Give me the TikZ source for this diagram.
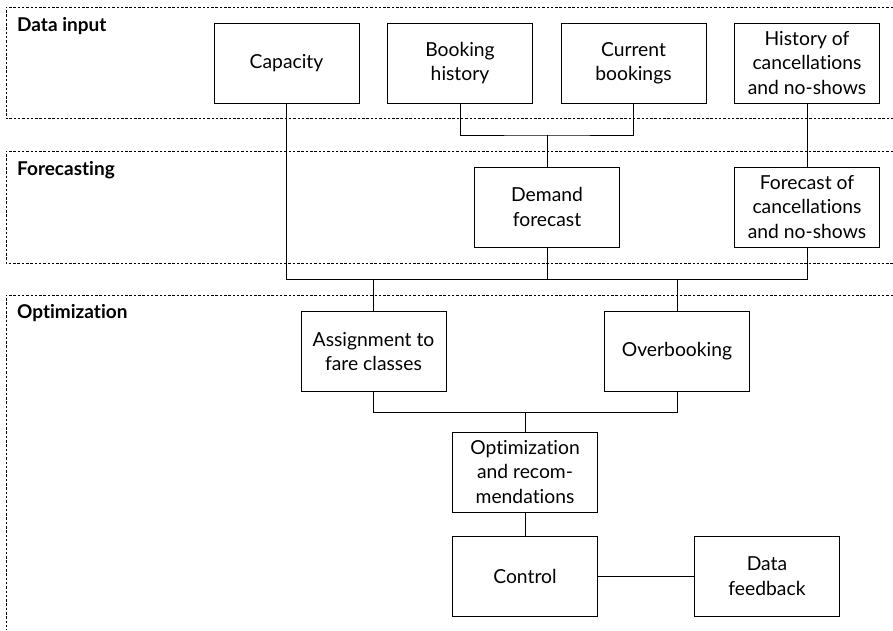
\documentclass[tikz,border=0pt]{standalone}
\usepackage{fontspec}
\setmainfont{Lato}[Ligatures=NoCommon]
\begin{document}
\begin{tikzpicture}[x=1pt,y=-1pt,
  procbox/.style={draw,line width=0.9pt,minimum width=145pt,minimum height=80pt,
    align=center,inner sep=2pt,font=\fontsize{19.3}{24.3}\selectfont},
  layertitle/.style={anchor=base west,inner sep=0pt,font=\fontsize{19}{22}\selectfont\bfseries},
  layerframe/.style={dashed,line width=0.6pt,dash pattern=on 2.5pt off 1.8pt},
  link/.style={line width=0.9pt}]
\useasboundingbox (0,0) rectangle (893,630);

% layer frames (open on the right)
\draw[layerframe] (893,7) -- (6,7) -- (6,118.5) -- (893,118.5);
\draw[layerframe] (893,151) -- (6,151) -- (6,263) -- (893,263);
\draw[layerframe] (893,295) -- (6,295) -- (6,630);

\node[layertitle] (tin)  at (17,31)  {Data input};
\node[layertitle] (tfc)  at (17,175) {Forecasting};
\node[layertitle] (topt) at (17,318) {Optimization};

% data input
\node[procbox] (cap)  at (286.5,63) {Capacity};
\node[procbox] (book) at (460,63)   {Booking\\history};
\node[procbox] (cur)  at (633.5,63) {Current\\bookings};
\node[procbox] (hist) at (807,63)   {History of\\cancellations\\and no-shows};

% forecasting
\node[procbox] (dem)  at (547,207)  {Demand\\forecast};
\node[procbox] (fcan) at (807,207)  {Forecast of\\cancellations\\and no-shows};

% optimization
\node[procbox] (asg)  at (373.5,351.5) {Assignment to\\fare classes};
\node[procbox] (ovb)  at (677,351.5)   {Overbooking};
\node[procbox] (opt)  at (525,472)     {Optimization\\and recom-\\mendations};
\node[procbox] (ctl)  at (525,576)     {Control};
\node[procbox] (fb)   at (767,576)     {Data\\feedback};

% junction points
\coordinate (j1) at (547,135);
\coordinate (busL) at (286.5,279);
\coordinate (busR) at (807,279);
\coordinate (j3) at (525,412);

\draw[link] (book.south) |- (j1) -| (cur.south);
\draw[link] (j1) -- (dem.north);
\draw[link] (hist.south) -- (fcan.north);
\draw[link] (cap.south) -- (busL) -- (busR) -- (fcan.south);
\draw[link] (dem.south) -- (dem.south |- busL);
\draw[link] (asg.north) -- (asg.north |- busL);
\draw[link] (ovb.north) -- (ovb.north |- busL);
\draw[link] (asg.south) |- (j3) -| (ovb.south);
\draw[link] (j3) -- (opt.north);
\draw[link] (opt.south) -- (ctl.north);
\draw[link] (ctl.east) -- (fb.west);
\end{tikzpicture}
\end{document}
